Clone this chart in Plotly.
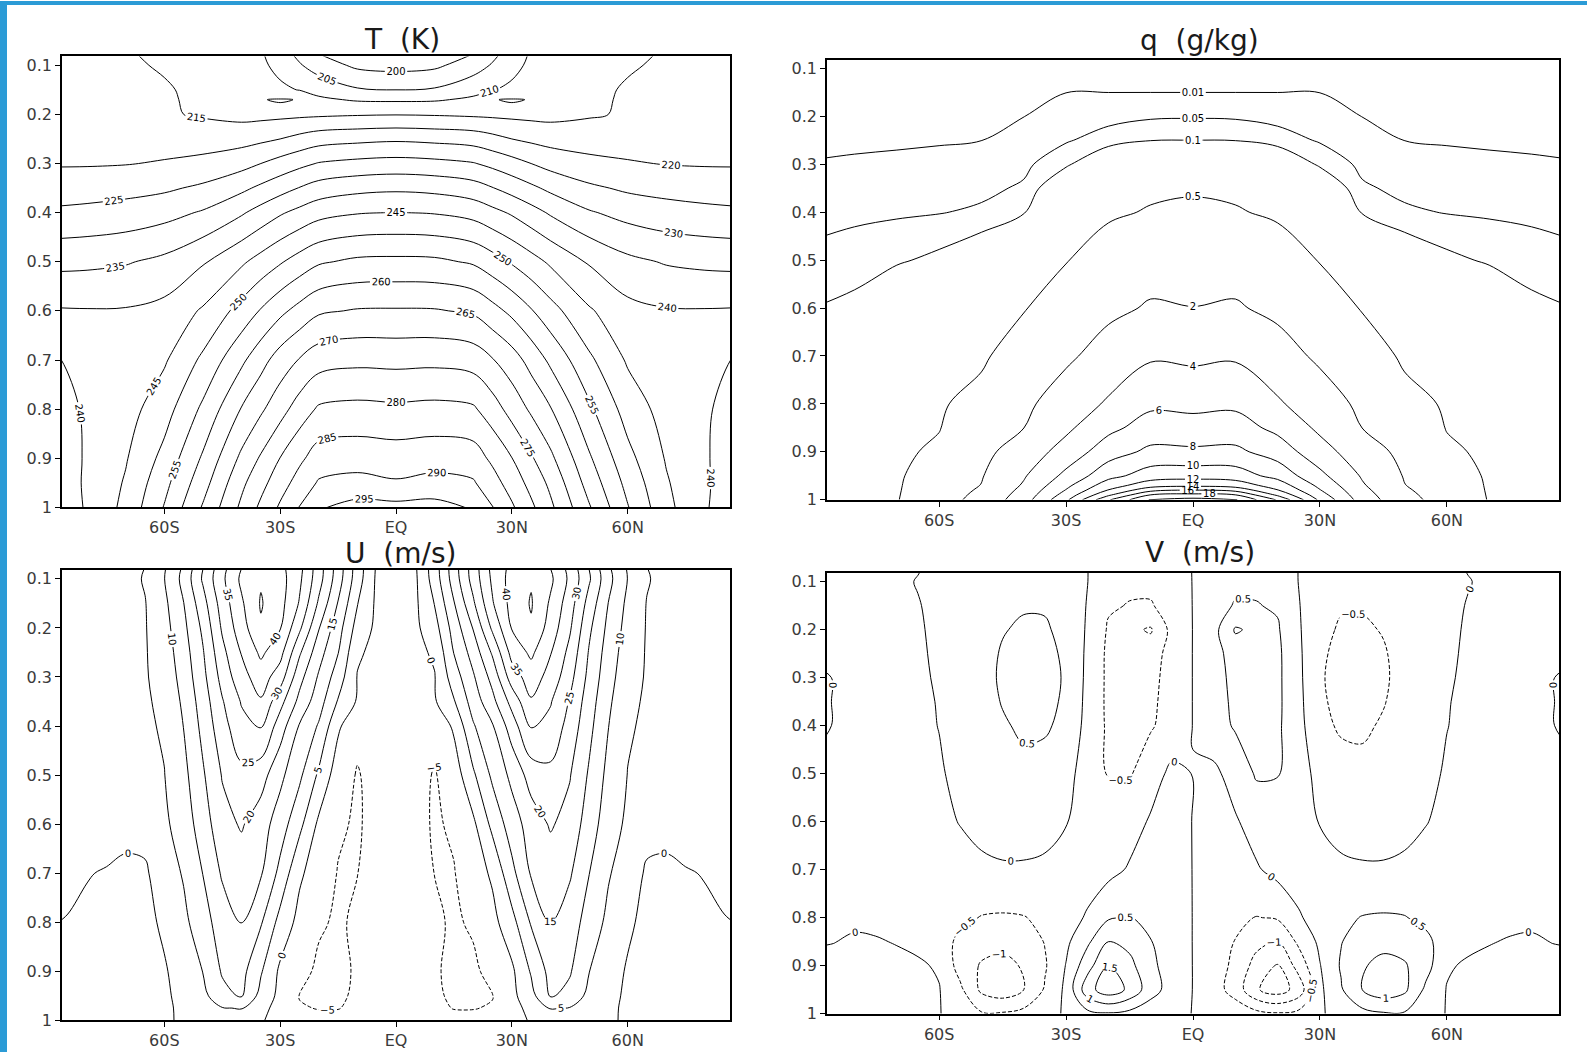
import plotly.graph_objects as go

# ---------------- grids ----------------
LAT_T = [-90, -80, -70, -60, -50, -40, -35, -30, -25, -20, -10, 0, 10, 20, 25, 30, 35, 40, 50, 60, 70, 80, 90]
LAT10 = [-90, -80, -70, -60, -50, -40, -30, -20, -10, 0, 10, 20, 30, 40, 50, 60, 70, 80, 90]
LAT5 = [-90, -85, -80, -75, -70, -65, -60, -55, -50, -45, -40, -35, -30, -25, -20, -15, -10, -5, 0,
        5, 10, 15, 20, 25, 30, 35, 40, 45, 50, 55, 60, 65, 70, 75, 80, 85, 90]

SIG_T = [0.08, 0.1, 0.15, 0.17, 0.2, 0.25, 0.3, 0.35, 0.4, 0.5, 0.6, 0.7, 0.8, 0.9, 0.95, 1.0]
SIG_Q = [0.08, 0.1, 0.15, 0.2, 0.25, 0.3, 0.35, 0.4, 0.5, 0.6, 0.7, 0.8, 0.85, 0.9, 0.95, 0.97, 0.98, 0.99, 1.0]
SIG_U = [0.08, 0.1, 0.15, 0.2, 0.25, 0.3, 0.35, 0.4, 0.5, 0.6, 0.7, 0.8, 0.9, 0.95, 0.975, 1.0]
SIG_V = [0.08, 0.1, 0.15, 0.2, 0.25, 0.3, 0.35, 0.4, 0.5, 0.6, 0.7, 0.8, 0.85, 0.9, 0.95, 1.0]

X_TICKS = [-60, -30, 0, 30, 60]
X_LABELS = ["60S", "30S", "EQ", "30N", "60N"]
Y_TICKS = [0.1, 0.2, 0.3, 0.4, 0.5, 0.6, 0.7, 0.8, 0.9, 1.0]
Y_LABELS = ["0.1", "0.2", "0.3", "0.4", "0.5", "0.6", "0.7", "0.8", "0.9", "1"]

# ---------------- T (K) on LAT_T x SIG_T ----------------
T_K = [
    [217, 216.5, 215.1, 214.8, 214.5, 213, 210.6, 207.5, 203.9, 200.3, 197, 196, 197, 200.3, 203.9, 207.5, 210.6, 213, 214.5, 214.8, 215.1, 216.5, 217],
    [217.5, 217, 215.3, 214.8, 214.5, 213, 211, 208.5, 205.5, 202.5, 199, 198.3, 199, 202.5, 205.5, 208.5, 211, 213, 214.5, 214.8, 215.3, 217, 217.5],
    [218, 217.5, 216.5, 215.2, 214.5, 213.3, 212.3, 211, 209.8, 208.5, 205.5, 205, 205.5, 208.5, 209.8, 211, 212.3, 213.3, 214.5, 215.2, 216.5, 217.5, 218],
    [218.4, 217.9, 216.9, 215.3, 214.5, 213.6, 214.85, 215.3, 214.85, 210.8, 209.5, 209.3, 209.5, 210.8, 214.85, 215.3, 214.85, 213.6, 214.5, 215.3, 216.9, 217.9, 218.4],
    [219, 218.5, 217.5, 215.5, 214.5, 213.5, 213.6, 213.8, 214, 214.2, 214.6, 214.8, 214.6, 214.2, 214, 213.8, 213.6, 213.5, 214.5, 215.5, 217.5, 218.5, 219],
    [219.3, 219, 218.6, 217.9, 217.7, 218.2, 219, 220, 221.5, 222.9, 223.7, 224.2, 223.7, 222.9, 221.5, 220, 219, 218.2, 217.7, 217.9, 218.6, 219, 219.3],
    [219.6, 219.6, 219.8, 220.4, 221.4, 223.3, 225, 226.9, 228.7, 230.3, 231.4, 231.9, 231.4, 230.3, 228.7, 226.9, 225, 223.3, 221.4, 220.4, 219.8, 219.6, 219.6],
    [222.4, 222.8, 223.4, 224.2, 225.9, 228.9, 231, 233.1, 235.2, 237.1, 238.6, 239.1, 238.6, 237.1, 235.2, 233.1, 231, 228.9, 225.9, 224.2, 223.4, 222.8, 222.4],
    [225.8, 226.3, 227, 228.3, 230.5, 234.4, 236.9, 239.4, 241.4, 243.3, 244.7, 245.1, 244.7, 243.3, 241.4, 239.4, 236.9, 234.4, 230.5, 228.3, 227, 226.3, 225.8],
    [233.6, 233.9, 234.6, 236.2, 239.5, 244.2, 246.9, 249.5, 252.1, 254.4, 256, 256.2, 256, 254.4, 252.1, 249.5, 246.9, 244.2, 239.5, 236.2, 234.6, 233.9, 233.6],
    [240.5, 240.3, 240.4, 241.5, 245.6, 251.9, 255.4, 258.8, 261.7, 264.3, 265.4, 265.5, 265.4, 264.3, 261.7, 258.8, 255.4, 251.9, 245.6, 241.5, 240.4, 240.3, 240.5],
    [239.8, 240.4, 241.8, 244.4, 251, 259, 263.2, 267.3, 270.3, 272.9, 273.8, 273.6, 273.8, 272.9, 270.3, 267.3, 263.2, 259, 251, 244.4, 241.8, 240.4, 239.8],
    [238.8, 240.3, 243, 247.9, 256, 265.3, 269.2, 273.1, 277.3, 280.7, 281.4, 281, 281.4, 280.7, 277.3, 273.1, 269.2, 265.3, 256, 247.9, 243, 240.3, 238.8],
    [238, 240.3, 244.6, 251.5, 260.7, 271.1, 275.6, 280.1, 284, 287.3, 287.9, 287.4, 287.9, 287.3, 284, 280.1, 275.6, 271.1, 260.7, 251.5, 244.6, 240.3, 238],
    [237.8, 240.4, 245.5, 253.5, 263, 273.9, 278.4, 282.9, 286.9, 290.5, 291.5, 290.5, 291.5, 290.5, 286.9, 282.9, 278.4, 273.9, 263, 253.5, 245.5, 240.4, 237.8],
    [237.5, 240.3, 246.4, 255.3, 265.5, 276, 281, 285.7, 290.2, 294.5, 296.8, 296.5, 296.8, 294.5, 290.2, 285.7, 281, 276, 265.5, 255.3, 246.4, 240.3, 237.5],
]

# ---------------- q (g/kg) on LAT10 x SIG_Q ----------------
Q_GKG = [
    [0.0007, 0.0008, 0.001, 0.001, 0.0015, 0.002, 0.002, 0.002, 0.002, 0.002, 0.002, 0.002, 0.002, 0.002, 0.0015, 0.001, 0.001, 0.0008, 0.0007],
    [0.001, 0.001, 0.0012, 0.0015, 0.002, 0.003, 0.004, 0.004, 0.004, 0.004, 0.004, 0.004, 0.004, 0.003, 0.002, 0.0015, 0.0012, 0.001, 0.001],
    [0.002, 0.002, 0.0025, 0.003, 0.004, 0.0065, 0.0096, 0.0098, 0.0098, 0.0098, 0.0098, 0.0098, 0.0096, 0.0065, 0.004, 0.003, 0.0025, 0.002, 0.002],
    [0.003, 0.0035, 0.004, 0.005, 0.007, 0.0095, 0.027, 0.033, 0.043, 0.045, 0.043, 0.033, 0.027, 0.0095, 0.007, 0.005, 0.004, 0.0035, 0.003],
    [0.005, 0.006, 0.007, 0.008, 0.0097, 0.0233, 0.0447, 0.074, 0.0976, 0.1, 0.0976, 0.074, 0.0447, 0.0233, 0.0097, 0.008, 0.007, 0.006, 0.005],
    [0.0111, 0.0129, 0.0143, 0.0168, 0.0235, 0.038, 0.089, 0.174, 0.236, 0.256, 0.236, 0.174, 0.089, 0.038, 0.0235, 0.0168, 0.0143, 0.0129, 0.0111],
    [0.0226, 0.0258, 0.0286, 0.032, 0.038, 0.057, 0.176, 0.283, 0.378, 0.41, 0.378, 0.283, 0.176, 0.057, 0.038, 0.032, 0.0286, 0.0258, 0.0226],
    [0.034, 0.0388, 0.043, 0.0475, 0.058, 0.093, 0.271, 0.391, 0.553, 0.66, 0.553, 0.391, 0.271, 0.093, 0.058, 0.0475, 0.043, 0.0388, 0.034],
    [0.0615, 0.0754, 0.0917, 0.115, 0.158, 0.264, 0.462, 0.875, 1.31, 1.38, 1.31, 0.875, 0.462, 0.264, 0.158, 0.115, 0.0917, 0.0754, 0.0615],
    [0.1, 0.115, 0.17, 0.216, 0.287, 0.445, 1.03, 1.625, 2.16, 2.02, 2.16, 1.625, 1.03, 0.445, 0.287, 0.216, 0.17, 0.115, 0.1],
    [0.13, 0.155, 0.24, 0.317, 0.37, 0.97, 1.7, 2.71, 3.76, 3.6, 3.76, 2.71, 1.7, 0.97, 0.37, 0.317, 0.24, 0.155, 0.13],
    [0.16, 0.2, 0.3, 0.419, 0.76, 1.65, 2.85, 4.25, 5.62, 5.5, 5.62, 4.25, 2.85, 1.65, 0.76, 0.419, 0.3, 0.2, 0.16],
    [0.175, 0.22, 0.33, 0.469, 1.14, 1.99, 3.62, 5.5, 6.86, 6.75, 6.86, 5.5, 3.62, 1.99, 1.14, 0.469, 0.33, 0.22, 0.175],
    [0.19, 0.24, 0.36, 0.63, 1.51, 2.89, 4.77, 7.1, 8.44, 8.35, 8.44, 7.1, 4.77, 2.89, 1.51, 0.63, 0.36, 0.24, 0.19],
    [0.21, 0.26, 0.39, 0.97, 1.89, 3.81, 6.5, 9.33, 11, 11.18, 11, 9.33, 6.5, 3.81, 1.89, 0.97, 0.39, 0.26, 0.21],
    [0.22, 0.27, 0.41, 1.1, 2.04, 4.2, 7.5, 11.1, 13.1, 13.5, 13.1, 11.1, 7.5, 4.2, 2.04, 1.1, 0.41, 0.27, 0.22],
    [0.23, 0.28, 0.42, 1.17, 2.2, 4.5, 8.1, 12.1, 15.4, 16.1, 15.4, 12.1, 8.1, 4.5, 2.2, 1.17, 0.42, 0.28, 0.23],
    [0.24, 0.29, 0.435, 1.23, 2.38, 4.8, 8.8, 13.67, 18.1, 18.57, 18.1, 13.67, 8.8, 4.8, 2.38, 1.23, 0.435, 0.29, 0.24],
    [0.25, 0.3, 0.45, 1.3, 2.55, 5.1, 9.6, 15.8, 20.2, 20.7, 20.2, 15.8, 9.6, 5.1, 2.55, 1.3, 0.45, 0.3, 0.25],
]
Q_LEVELS = [0.01, 0.05, 0.1, 0.5, 2, 4, 6, 8, 10, 12, 14, 16, 18, 20]

# ---------------- U (m/s) on LAT5 x SIG_U ----------------
U_MS = [
    [1.5, 1.8, 2, 2.5, 3.2, 5.1, 9.6, 15.9, 25, 33.5, 40.1, 42.8, 41.4, 36.5, 27.3, 17.7, 7.6, -0.6, -3, -0.6, 7.6, 17.7, 27.3, 36.5, 41.4, 42.8, 40.1, 33.5, 25, 15.9, 9.6, 5.1, 3.2, 2.5, 2, 1.8, 1.5],
    [1.6, 1.9, 2.1, 2.6, 3.3, 5.4, 9.9, 16.5, 25.7, 34, 41, 44.5, 42, 36, 27, 17.3, 7.3, -0.8, -3, -0.8, 7.3, 17.3, 27, 36, 42, 44.5, 41, 34, 25.7, 16.5, 9.9, 5.4, 3.3, 2.6, 2.1, 1.9, 1.6],
    [1.8, 2, 2.3, 2.8, 3.5, 4.8, 8.9, 14.9, 23.1, 32.3, 39.3, 45.4, 41.7, 34.6, 24.2, 14.7, 5.2, -0.9, -2.8, -0.9, 5.2, 14.7, 24.2, 34.6, 41.7, 45.4, 39.3, 32.3, 23.1, 14.9, 8.9, 4.8, 3.5, 2.8, 2.3, 2, 1.8],
    [2, 2.2, 2.5, 3, 3.7, 4.7, 8.2, 13.75, 21, 30.7, 37.9, 44.4, 40.3, 31, 20.3, 12.1, 3, -1, -2.5, -1, 3, 12.1, 20.3, 31, 40.3, 44.4, 37.9, 30.7, 21, 13.75, 8.2, 4.7, 3.7, 3, 2.5, 2.2, 2],
    [2.2, 2.4, 2.7, 3.2, 3.9, 4.65, 7.45, 12.75, 19.6, 28.6, 35.3, 41, 36.7, 25.75, 17, 10.2, 0.6, -1.1, -2.3, -1.1, 0.6, 10.2, 17, 25.75, 36.7, 41, 35.3, 28.6, 19.6, 12.75, 7.45, 4.65, 3.9, 3.2, 2.7, 2.4, 2.2],
    [2.4, 2.6, 2.9, 3.4, 4, 4.6, 6.8, 11.9, 18.6, 26.7, 33.3, 37.4, 32.5, 21.7, 14.4, 7.5, -0.2, -1.2, -2.2, -1.2, -0.2, 7.5, 14.4, 21.7, 32.5, 37.4, 33.3, 26.7, 18.6, 11.9, 6.8, 4.6, 4, 3.4, 2.9, 2.6, 2.4],
    [2.5, 2.7, 3, 3.5, 4, 4.4, 6.1, 10.9, 17.4, 24.6, 30.4, 34.5, 26.7, 18.6, 12.2, 4.6, -0.5, -1.3, -2.1, -1.3, -0.5, 4.6, 12.2, 18.6, 26.7, 34.5, 30.4, 24.6, 17.4, 10.9, 6.1, 4.4, 4, 3.5, 3, 2.7, 2.5],
    [2.6, 2.8, 3.1, 3.5, 4, 4.3, 5.5, 10.1, 16.4, 23.1, 28.5, 30.5, 22.5, 14.6, 9.5, 0.8, -3.8, -3, -2.2, -3, -3.8, 0.8, 9.5, 14.6, 22.5, 30.5, 28.5, 23.1, 16.4, 10.1, 5.5, 4.3, 4, 3.5, 3.1, 2.8, 2.6],
    [2.6, 2.8, 3, 3.4, 3.8, 4.2, 4.9, 8.6, 14.4, 20.3, 23.7, 22.1, 16.25, 11, 4.2, -2.8, -5.3, -3.5, -2.2, -3.5, -5.3, -2.8, 4.2, 11, 16.25, 22.1, 23.7, 20.3, 14.4, 8.6, 4.9, 4.2, 3.8, 3.4, 3, 2.8, 2.6],
    [2, 2.2, 2.3, 2, 1.2, 1.5, 4.1, 7.3, 12.5, 18.3, 20.5, 17.3, 12.5, 6.4, -1, -4.4, -5.5, -3.5, -2.3, -3.5, -5.5, -4.4, -1, 6.4, 12.5, 17.3, 20.5, 18.3, 12.5, 7.3, 4.1, 1.5, 1.2, 2, 2.3, 2.2, 2],
    [1.5, 1.0, 0.2, -0.3, -0.8, -0.6, 2.4, 5.45, 10.1, 15.6, 17.4, 15.5, 8.6, 0.8, -2.5, -5.2, -5.05, -3.3, -2.5, -3.3, -5.05, -5.2, -2.5, 0.8, 8.6, 15.5, 17.4, 15.6, 10.1, 5.45, 2.4, -0.6, -0.8, -0.3, 0.2, 1.0, 1.5],
    [0.2, -0.2, -0.8, -1.6, -1.8, -1.4, 0.9, 3.8, 8, 12.4, 15.2, 10.5, 3.3, -1.5, -4.5, -5.5, -4.4, -3.5, -2.8, -3.5, -4.4, -5.5, -4.5, -1.5, 3.3, 10.5, 15.2, 12.4, 8, 3.8, 0.9, -1.4, -1.8, -1.6, -0.8, -0.2, 0.2],
    [-1.5, -1.8, -2.3, -2.6, -2.6, -2, -0.5, 2.2, 5.1, 10.5, 11.6, 5.5, -0.9, -3.8, -5.7, -5.8, -4.6, -3.6, -3, -3.6, -4.6, -5.8, -5.7, -3.8, -0.9, 5.5, 11.6, 10.5, 5.1, 2.2, -0.5, -2, -2.6, -2.6, -2.3, -1.8, -1.5],
    [-2.5, -2.8, -3, -3.2, -3, -2.5, -0.8, 1.4, 3.6, 8.5, 10.5, 3.3, -1.3, -5.1, -5.6, -5.4, -4.6, -3.6, -2.8, -3.6, -4.6, -5.4, -5.6, -5.1, -1.3, 3.3, 10.5, 8.5, 3.6, 1.4, -0.8, -2.5, -3, -3.2, -3, -2.8, -2.5],
    [-2.8, -3, -3.2, -3.3, -3.1, -2.6, -0.9, 1, 3, 4.8, 5.2, 1.5, -1.8, -4.8, -5.1, -5.1, -4.4, -3.5, -2.8, -3.5, -4.4, -5.1, -5.1, -4.8, -1.8, 1.5, 5.2, 4.8, 3, 1, -0.9, -2.6, -3.1, -3.3, -3.2, -3, -2.8],
    [-3, -3.2, -3.3, -3.3, -3.1, -2.5, -0.8, 0.8, 2.2, 3.3, 3.5, 0.5, -2, -4, -4.3, -4.2, -3.8, -3.2, -2.6, -3.2, -3.8, -4.2, -4.3, -4, -2, 0.5, 3.5, 3.3, 2.2, 0.8, -0.8, -2.5, -3.1, -3.3, -3.3, -3.2, -3],
]

# ---------------- V (m/s) on LAT5 x SIG_V ----------------
V_MS = [
    [-0.1, -0.1, -0.1, -0.1, -0.1, -0.01, 0.1, 0.2, 0.3, 0.35, 0.4, 0.35, 0.2, 0.01, -0.25, -0.35, -0.3, -0.15, 0.01, 0.15, 0.3, 0.35, 0.25, -0.01, -0.2, -0.35, -0.4, -0.35, -0.3, -0.2, -0.1, 0.01, 0.1, 0.1, 0.1, 0.1, 0.1],
    [-0.1, -0.1, -0.1, -0.1, -0.08, 0.02, 0.15, 0.25, 0.35, 0.4, 0.45, 0.4, 0.22, 0.01, -0.3, -0.42, -0.35, -0.18, 0.01, 0.18, 0.35, 0.42, 0.3, -0.01, -0.22, -0.4, -0.45, -0.4, -0.35, -0.25, -0.15, -0.02, 0.08, 0.1, 0.1, 0.1, 0.1],
    [-0.12, -0.12, -0.12, -0.12, -0.1, -0.02, 0.1, 0.22, 0.32, 0.42, 0.47, 0.46, 0.3, -0.02, -0.45, -0.52, -0.55, -0.25, 0.01, 0.25, 0.55, 0.52, 0.45, 0.02, -0.3, -0.46, -0.47, -0.42, -0.32, -0.22, -0.1, 0.02, 0.1, 0.12, 0.12, 0.12, 0.12],
    [-0.12, -0.12, -0.12, -0.12, -0.1, -0.04, 0.08, 0.22, 0.36, 0.48, 0.55, 0.55, 0.38, -0.05, -0.55, -0.9, -1.05, -0.35, 0.01, 0.35, 1.05, 0.9, 0.55, 0.05, -0.38, -0.55, -0.55, -0.48, -0.36, -0.22, -0.08, 0.04, 0.1, 0.12, 0.12, 0.12, 0.12],
    [-0.1, -0.1, -0.1, -0.1, -0.08, -0.05, 0.06, 0.22, 0.38, 0.53, 0.64, 0.63, 0.42, -0.08, -0.6, -0.8, -0.75, -0.3, 0.01, 0.3, 0.75, 0.8, 0.6, 0.08, -0.42, -0.63, -0.64, -0.53, -0.38, -0.22, -0.06, 0.05, 0.08, 0.1, 0.1, 0.1, 0.1],
    [0.1, -0.01, -0.08, -0.1, -0.1, -0.06, 0.04, 0.2, 0.38, 0.55, 0.68, 0.66, 0.45, -0.1, -0.6, -0.7, -0.65, -0.3, 0.01, 0.3, 0.65, 0.7, 0.6, 0.1, -0.45, -0.66, -0.68, -0.55, -0.38, -0.2, -0.04, 0.06, 0.1, 0.1, 0.08, 0.01, -0.1],
    [0.1, -0.01, -0.08, -0.1, -0.1, -0.08, 0.02, 0.18, 0.36, 0.52, 0.65, 0.64, 0.42, -0.12, -0.6, -0.68, -0.6, -0.3, 0.01, 0.3, 0.6, 0.68, 0.6, 0.12, -0.42, -0.64, -0.65, -0.52, -0.36, -0.18, -0.02, 0.08, 0.1, 0.1, 0.08, 0.01, -0.1],
    [0.1, -0.01, -0.08, -0.1, -0.1, -0.1, 0.01, 0.16, 0.32, 0.46, 0.56, 0.56, 0.38, -0.15, -0.58, -0.65, -0.55, -0.3, 0.01, 0.3, 0.55, 0.65, 0.58, 0.15, -0.38, -0.56, -0.56, -0.46, -0.32, -0.16, -0.01, 0.1, 0.1, 0.1, 0.08, 0.01, -0.1],
    [-0.08, -0.08, -0.1, -0.1, -0.12, -0.12, -0.05, 0.12, 0.3, 0.38, 0.4, 0.32, 0.15, -0.2, -0.52, -0.55, -0.2, 0.1, -0.01, -0.1, 0.2, 0.55, 0.52, 0.2, -0.15, -0.32, -0.4, -0.38, -0.3, -0.12, 0.05, 0.12, 0.12, 0.1, 0.1, 0.08, 0.08],
    [-0.1, -0.1, -0.12, -0.12, -0.15, -0.15, -0.12, 0.02, 0.15, 0.2, 0.2, 0.15, 0.02, -0.2, -0.35, -0.2, 0.05, 0.15, -0.01, -0.15, -0.05, 0.2, 0.35, 0.2, -0.02, -0.15, -0.2, -0.2, -0.15, -0.02, 0.12, 0.15, 0.15, 0.12, 0.12, 0.1, 0.1],
    [-0.1, -0.12, -0.15, -0.18, -0.2, -0.22, -0.22, -0.18, -0.1, -0.05, -0.05, -0.08, -0.15, -0.22, -0.15, 0.05, 0.2, 0.2, -0.01, -0.2, -0.2, -0.05, 0.15, 0.22, 0.15, 0.08, 0.05, 0.05, 0.1, 0.18, 0.22, 0.22, 0.2, 0.18, 0.15, 0.12, 0.1],
    [-0.05, -0.05, -0.08, -0.1, -0.15, -0.2, -0.3, -0.4, -0.52, -0.55, -0.52, -0.4, -0.2, 0.05, 0.45, 0.52, 0.35, 0.25, -0.01, -0.25, -0.35, -0.52, -0.45, -0.05, 0.2, 0.4, 0.52, 0.55, 0.52, 0.4, 0.3, 0.2, 0.15, 0.1, 0.08, 0.05, 0.05],
    [-0.03, -0.01, 0.05, 0.03, -0.02, -0.1, -0.3, -0.6, -0.8, -0.85, -0.75, -0.48, -0.1, 0.4, 1.0, 0.85, 0.52, 0.25, -0.01, -0.25, -0.52, -0.85, -1.0, -0.4, 0.1, 0.48, 0.75, 0.85, 0.8, 0.6, 0.3, 0.1, 0.02, -0.03, -0.05, 0.01, 0.03],
    [0.1, 0.12, 0.15, 0.12, 0.1, 0.06, -0.05, -0.7, -1.05, -1.15, -0.95, -0.55, 0.02, 0.8, 1.5, 1.15, 0.6, 0.3, -0.01, -0.3, -0.6, -1.2, -1.55, -0.8, -0.02, 0.55, 0.95, 1.15, 1.05, 0.7, 0.05, -0.06, -0.1, -0.12, -0.15, -0.12, -0.1],
    [0.15, 0.18, 0.2, 0.18, 0.15, 0.1, 0.02, -0.4, -1.1, -1.3, -1.0, -0.45, 0.1, 1.3, 1.8, 1.4, 0.7, 0.3, -0.01, -0.3, -0.7, -1.45, -1.75, -1.3, -0.1, 0.45, 1.0, 1.3, 1.1, 0.4, -0.02, -0.1, -0.15, -0.18, -0.2, -0.18, -0.15],
    [0.05, 0.08, 0.1, 0.08, 0.06, 0.05, 0.03, -0.3, -0.45, -0.45, -0.35, -0.15, 0.05, 0.35, 0.45, 0.35, 0.2, 0.1, -0.01, -0.1, -0.2, -0.35, -0.45, -0.35, -0.05, 0.15, 0.35, 0.45, 0.45, 0.3, -0.03, -0.05, -0.06, -0.08, -0.1, -0.08, -0.05],
]

TITLES = ["T  (K)", "q  (g/kg)", "U  (m/s)", "V  (m/s)"]

# ---------------- figure ----------------
W, H = 1587, 1062
FONT = "DejaVu Sans"
BLACK = [[0, "#000000"], [1, "#000000"]]
LABFONT = dict(family=FONT, size=10, color="#000000")

fig = go.Figure()


def add_contour(x, y, z, start, end, size, axis, dash="solid"):
    fig.add_trace(go.Contour(
        x=x, y=y, z=z,
        autocontour=False,
        contours=dict(start=start, end=end, size=size, coloring="lines",
                      showlabels=True, labelfont=LABFONT),
        line=dict(width=1, dash=dash, smoothing=1.0),
        colorscale=BLACK, showscale=False, hoverinfo="skip",
        xaxis="x" + axis, yaxis="y" + axis,
    ))


# T
add_contour(LAT_T, SIG_T, T_K, 195, 300, 5, "")
# q (irregular levels -> one trace per level)
for lv in Q_LEVELS:
    add_contour(LAT10, SIG_Q, Q_GKG, lv, lv, 1, "2")
# U
add_contour(LAT5, SIG_U, U_MS, -5, -5, 5, "3", dash="4px,2px")
add_contour(LAT5, SIG_U, U_MS, 0, 45, 5, "3")
# V
add_contour(LAT5, SIG_V, V_MS, -2, -0.5, 0.5, "4", dash="4px,2px")
add_contour(LAT5, SIG_V, V_MS, 0, 2.5, 0.5, "4")

# panel boxes in pixels: (left, right, top, bottom)
BOXES = {
    "": (62, 730, 56, 511.7),
    "2": (827, 1559, 59.3, 504),
    "3": (62, 730, 575, 1030),
    "4": (827, 1559, 578, 1023.3),
}

layout = dict(
    width=W, height=H, margin=dict(l=0, r=0, t=0, b=0),
    paper_bgcolor="white", plot_bgcolor="white", showlegend=False,
)
for key, (l, r, t, b) in BOXES.items():
    xd = [l / W, r / W]
    yd = [1 - b / H, 1 - t / H]
    layout["xaxis" + key] = dict(
        domain=xd, range=[-86.5, 86.5], anchor="y" + key,
        tickmode="array", tickvals=X_TICKS, ticktext=X_LABELS,
        ticks="outside", ticklen=5, tickwidth=1, tickcolor="#000",
        showline=True, mirror=True, linecolor="#000", linewidth=1.5,
        showgrid=False, zeroline=False,
        tickfont=dict(family=FONT, size=16, color="#3a3a3a"),
    )
    layout["yaxis" + key] = dict(
        domain=yd, range=[1.0, 0.082], anchor="x" + key,
        tickmode="array", tickvals=Y_TICKS, ticktext=Y_LABELS,
        ticks="outside", ticklen=5, tickwidth=1, tickcolor="#000",
        showline=True, mirror=True, linecolor="#000", linewidth=1.5,
        showgrid=False, zeroline=False,
        tickfont=dict(family=FONT, size=16, color="#3a3a3a"),
    )

TITLE_POS = [(402, 39), (1199, 40), (400, 558), (1200, 557)]
annotations = []
for text, (px, py) in zip(TITLES, TITLE_POS):
    annotations.append(dict(
        text=text, x=px / W, y=1 - py / H, xref="paper", yref="paper",
        xanchor="center", yanchor="middle", showarrow=False,
        font=dict(family=FONT, size=28, color="#1a1a1a"),
    ))
layout["annotations"] = annotations

BLUE = "#2b9bd6"
layout["shapes"] = [
    dict(type="rect", xref="paper", yref="paper", x0=0, x1=7 / W, y0=0, y1=1,
         fillcolor=BLUE, line=dict(width=0), layer="above"),
    dict(type="rect", xref="paper", yref="paper", x0=0, x1=1, y0=1 - 4 / H, y1=1,
         fillcolor=BLUE, line=dict(width=0), layer="above"),
]

fig.update_layout(**layout)
fig.write_html("out.html")
